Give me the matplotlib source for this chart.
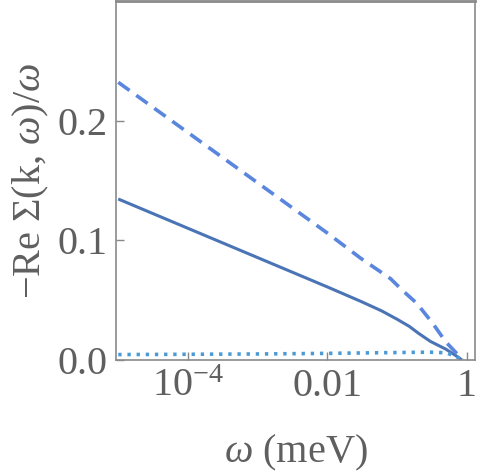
import matplotlib
matplotlib.use("Agg")
import matplotlib.pyplot as plt
from matplotlib.ticker import FixedLocator, NullLocator

# values (omega in meV)
omega_solid = [1e-5, 1e-4, 1e-3, 1e-2, 0.03, 0.06, 0.1, 0.15, 0.2, 0.3, 0.5, 0.7, 0.85]
sigma_solid = [0.1345, 0.110, 0.0855, 0.061, 0.049, 0.041, 0.034, 0.028, 0.0225, 0.0155, 0.009, 0.0035, 0.0]

omega_dashed = [1e-5, 1e-4, 1e-3, 1e-2, 0.03, 0.06, 0.08, 0.12, 0.19, 0.32, 0.5, 0.8, 0.87]
sigma_dashed = [0.232, 0.190, 0.148, 0.106, 0.085, 0.073, 0.068, 0.058, 0.0475, 0.031, 0.015, 0.0025, 0.0]

omega_dotted = [1e-5, 1e-3, 1e-2, 0.1, 0.3, 0.5, 0.7, 0.85]
sigma_dotted = [0.0045, 0.0050, 0.0055, 0.0062, 0.0065, 0.006, 0.003, 0.0]

xticks = [1e-4, 1e-2, 1]
xticklabels = [r"$10^{-4}$", "0.01", "1"]
yticks = [0.0, 0.1, 0.2]
yticklabels = ["0.0", "0.1", "0.2"]

gray = "#5f5f5f"
plt.rcParams["font.family"] = ["Liberation Serif", "DejaVu Serif"]
plt.rcParams["mathtext.fontset"] = "custom"
plt.rcParams["mathtext.rm"] = "Liberation Serif"
plt.rcParams["mathtext.it"] = "Liberation Serif:italic"
plt.rcParams["lines.scale_dashes"] = False

fig = plt.figure(figsize=(4.84, 4.73), dpi=100)
ax = fig.add_axes([0.24, 0.239, 0.741, 0.759])

ax.plot(omega_solid, sigma_solid, color="#4a74b5", lw=2.2, solid_capstyle="butt")
ax.plot(omega_dashed, sigma_dashed, color="#5a86de", lw=2.6, linestyle=(0, (10, 6)))
ax.plot(omega_dotted, sigma_dotted, color="#4b9ad6", lw=2.6, linestyle=(0, (2.4, 4.2)))

ax.set_xscale("log")
ax.set_xlim(10 ** -5.03, 10 ** 0.114)
ax.set_ylim(0, 0.3)

ax.xaxis.set_major_locator(FixedLocator(xticks))
ax.xaxis.set_minor_locator(NullLocator())
ax.set_xticklabels(xticklabels)
ax.set_yticks(yticks)
ax.set_yticklabels(yticklabels)

ax.tick_params(direction="in", length=6, width=1, color="#888888",
               labelsize=29, labelcolor=gray)
ax.tick_params(axis="x", pad=6)
ax.tick_params(axis="y", pad=6)

for side in ["left", "bottom", "right", "top"]:
    ax.spines[side].set_color("#8a8a8a")
    ax.spines[side].set_linewidth(1.2)
ax.spines["top"].set_linewidth(2.0)

ax.set_xlabel(r"$\omega$ (meV)", fontsize=29, color=gray, labelpad=20)
ax.set_ylabel(r"$-$Re $\Sigma$(k, $\omega$)/$\omega$", fontsize=29, color=gray)
ax.yaxis.set_label_coords(-0.183, 0.50)

fig.savefig("out.png", dpi=100)
